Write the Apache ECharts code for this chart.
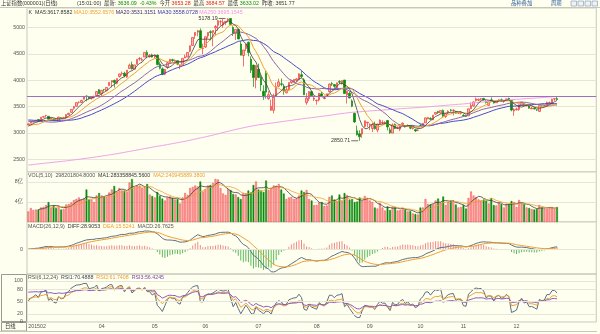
<!DOCTYPE html>
<html>
<head>
<meta charset="utf-8">
<script src="https://cdn.jsdelivr.net/npm/echarts@6/dist/echarts.min.js"></script>
<style>
html,body{margin:0;padding:0;background:#fffff0;}
#chart{width:600px;height:334px;}
</style>
</head>
<body>
<div id="chart"></div>
<script>
// 上证指数 daily bars, 2015-02-12 .. 2015-12-23
const tradingDays = [
  ['2015-02', [12,13,16,17,25,26,27]],
  ['2015-03', [2,3,4,5,6,9,10,11,12,13,16,17,18,19,20,23,24,25,26,27,30,31]],
  ['2015-04', [1,2,3,7,8,9,10,13,14,15,16,17,20,21,22,23,24,27,28,29,30]],
  ['2015-05', [4,5,6,7,8,11,12,13,14,15,18,19,20,21,22,25,26,27,28,29]],
  ['2015-06', [1,2,3,4,5,8,9,10,11,12,15,16,17,18,19,23,24,25,26,29,30]],
  ['2015-07', [1,2,3,6,7,8,9,10,13,14,15,16,17,20,21,22,23,24,27,28,29,30,31]],
  ['2015-08', [3,4,5,6,7,10,11,12,13,14,17,18,19,20,21,24,25,26,27,28,31]],
  ['2015-09', [1,2,7,8,9,10,11,14,15,16,17,18,21,22,23,24,25,28,29,30]],
  ['2015-10', [8,9,12,13,14,15,16,19,20,21,22,23,26,27,28,29,30]],
  ['2015-11', [2,3,4,5,6,9,10,11,12,13,16,17,18,19,20,23,24,25,26,27,30]],
  ['2015-12', [1,2,3,4,7,8,9,10,11,14,15,16,17,18,21,22,23]]
];

// closes before the first bar, used to warm up the moving averages and RSI
const priorCloses = [3234.7,3350.5,3351.4,3374.0,3293.5,3285.4,3229.3,3235.3,3222.4,3336.5,
  3376.5,3116.4,3173.1,3323.6,3343.3,3351.8,3383.2,3353.0,3305.7,3262.3,
  3210.4,3128.3,3204.9,3174.1,3136.5,3075.9,3095.1,3141.6,3157.7];

const openPrice = [
  3157,3186,3207,3230,3256,3222,3301,
  3332,3317,3264,3265,3248,3224,3289,3290,3285,3349,3391,3468,3508,3582,3580,3640,3702,3685,3658,3678,3710,3822,
  3748,3829,3804,3899,3967,3999,3944,4072,4125,4136,4065,4226,4302,4212,4304,4405,4385,4442,4531,4450,4483,
  4442,4479,4311,4218,4118,4256,4335,4392,4370,4374,4278,4285,4425,4442,4554,4661,4854,4917,4943,4603,
  4633,4844,4924,4912,4996,5045,5113,5049,5100,5143,5174,5004,4890,4968,4689,4471,4605,4723,4399,4289,4007,
  4214,4059,3793,4132,3654,3433,3432,3707,3888,3933,3891,3764,3827,3957,3965,4002,4019,4105,4009,3574,3653,3784,3641,
  3614,3628,3744,3656,3700,3786,3938,3919,3860,3976,3937,4007,3725,3753,3609,3373,3042,2985,2979,3125,3192,
  3157,3085,3149,3055,3175,3190,3189,3237,3061,2998,3163,3087,3072,3163,3137,3127,3134,3083,3063,3047,
  3144,3137,3192,3267,3276,3249,3358,3408,3380,3429,3313,3387,3438,3427,3409,3376,3376,
  3338,3324,3326,3462,3514,3617,3622,3643,3657,3603,3525,3629,3607,3574,3619,3631,3599,3615,3659,3616,3419,
  3442,3447,3526,3558,3518,3516,3458,3469,3440,3410,3511,3514,3530,3576,3576,3644,3653.28
];
const highPrice = [
  3182,3237,3229,3247,3257,3300,3324,
  3337,3318,3286,3266,3265,3307,3296,3307,3352,3385,3450,3503,3578,3600,3632,3688,3715,3700,3703,3711,3795,3836,
  3818,3835,3865,3962,3996,4016,4035,4128,4168,4164,4195,4317,4356,4294,4399,4444,4433,4529,4572,4499,4507,
  4486,4489,4354,4247,4216,4347,4402,4409,4397,4377,4294,4418,4491,4530,4658,4814,4911,4958,4986,4698,
  4829,4911,4951,4948,5052,5147,5147,5164,5122,5178.19,5176,5029,4968,4983,4744,4577,4691,4737,4456,4297,4287,
  4318,4113,3908,4184,3796,3631,3748,3959,4031,4035,3933,3873,3958,4007,4018,4043,4132,4184,4043,3758,3790,3795,3699,
  3632,3757,3783,3712,3746,3943,3970,3930,3955,4003,3994,4007,3803,3792,3640,3389,3142,3051,3084,3233,3207,
  3180,3187,3217,3174,3256,3243,3223,3238,3104,3182,3180,3124,3159,3201,3154,3164,3142,3107,3075,3073,
  3172,3184,3289,3296,3300,3339,3395,3422,3426,3447,3370,3430,3457,3448,3422,3398,3416,
  3358,3340,3460,3585,3596,3673,3654,3662,3667,3617,3608,3678,3617,3618,3640,3655,3620,3648,3669,3621,3470,
  3483,3538,3585,3568,3548,3516,3496,3488,3450,3521,3521,3534,3598,3597,3651,3653,3684.57
];
const lowPrice = [
  3152,3186,3199,3222,3215,3207,3295,
  3298,3260,3250,3221,3234,3223,3279,3280,3269,3346,3387,3443,3500,3559,3567,3640,3600,3641,3631,3655,3709,3739,
  3702,3783,3793,3899,3866,3862,3927,4052,4091,4062,4045,4216,4205,4212,4304,4373,4360,4442,4422,4432,4431,
  4421,4286,4210,4099,4097,4220,4325,4351,4356,4287,4212,4285,4424,4442,4536,4661,4789,4837,4614,4497,
  4615,4797,4759,4647,4856,4943,5038,5001,5050,5104,5048,4842,4767,4780,4476,4264,4557,4456,4139,3875,3847,
  4043,3795,3629,3653,3629,3421,3373,3707,3870,3888,3726,3752,3810,3934,3956,3974,4015,4043,3720,3537,3605,3698,3604,
  3538,3600,3692,3640,3694,3773,3893,3857,3840,3929,3921,3743,3558,3660,3491,3192,2953,2850.71,2906,3103,3109,
  3054,3019,3066,3012,3165,3165,3170,3049,2983,2998,3074,3076,3034,3162,3104,3123,3069,3068,3021,3039,
  3130,3129,3192,3263,3250,3248,3345,3365,3372,3306,3283,3358,3406,3332,3370,3361,3351,
  3313,3305,3326,3459,3500,3595,3606,3617,3615,3558,3517,3601,3560,3574,3591,3600,3572,3611,3629,3412,3327,
  3426,3421,3516,3514,3505,3465,3454,3448,3417,3402,3486,3500,3530,3563,3565,3610,3633.02
];
const closePrice = [
  3173.4,3203.8,3222.4,3246.9,3228.8,3298.4,3310.3,
  3336.3,3263.1,3279.5,3248.5,3241.2,3302.4,3286.1,3290.9,3349.3,3372.9,3449.3,3502.9,3577.3,3582.3,3617.3,3687.7,3691.4,3660.7,3682.1,3691.1,3786.6,3747.9,
  3810.3,3825.8,3863.9,3961.4,3994.8,3957.5,4034.3,4121.7,4135.6,4084.2,4194.8,4287.3,4217.1,4293.6,4398.5,4414.5,4393.7,4527.4,4476.6,4476.2,4441.7,
  4480.5,4298.7,4229.3,4112.2,4205.9,4333.6,4401.2,4375.8,4378.3,4308.7,4283.5,4417.6,4446.3,4529.4,4657.6,4813.8,4910.9,4941.7,4620.3,4611.7,
  4828.7,4910.5,4909.9,4947.1,5023.1,5131.9,5113.5,5106.0,5121.6,5166.4,5062.9,4887.4,4967.9,4785.4,4478.4,4576.5,4690.2,4527.8,4192.9,4053.0,4277.2,
  4053.7,3912.8,3686.9,3775.9,3727.1,3507.2,3709.3,3877.8,3970.4,3924.5,3805.7,3823.2,3957.4,3992.1,4017.7,4026.0,4123.9,4070.9,3725.6,3663.0,3789.2,3705.8,3663.7,
  3622.9,3756.5,3694.6,3661.5,3744.2,3928.4,3927.9,3886.3,3954.6,3965.3,3993.7,3748.2,3794.1,3664.3,3507.7,3209.9,2965.0,2927.3,3083.6,3232.4,3206.0,
  3166.6,3160.2,3080.4,3170.5,3243.1,3197.9,3200.2,3114.8,3005.2,3152.3,3086.1,3097.9,3156.5,3185.6,3115.9,3142.7,3092.3,3100.8,3038.1,3052.8,
  3143.4,3183.2,3287.7,3293.2,3262.4,3338.1,3391.4,3386.7,3425.3,3320.7,3368.7,3412.4,3429.6,3434.3,3375.2,3387.3,3382.6,
  3325.1,3316.7,3459.6,3522.8,3590.0,3646.9,3640.5,3650.3,3632.9,3580.8,3607.0,3604.8,3568.5,3617.1,3630.5,3610.3,3616.1,3647.9,3635.6,3436.3,3445.4,
  3456.3,3536.9,3584.8,3525.0,3536.9,3470.1,3472.4,3455.5,3434.6,3520.7,3510.4,3516.2,3580.0,3579.0,3642.5,3651.8,3636.09
];
// volume, in units of 1亿
const volumeYi = [
  2.1,2.8,2.4,2.5,2.5,2.9,3.0,
  3.4,4.0,2.9,3.3,2.8,3.2,2.5,2.6,3.5,3.6,3.9,4.4,4.6,4.9,4.5,4.7,6.5,4.5,4.5,4.0,5.3,5.8,
  5.3,5.1,5.0,5.9,6.5,7.2,6.0,6.8,6.3,6.3,6.0,7.9,8.6,6.9,7.2,7.3,6.8,7.0,7.6,5.5,5.2,
  4.9,6.0,5.2,4.7,4.3,4.9,5.1,4.8,4.5,4.6,3.7,4.9,5.8,5.4,6.8,7.0,7.3,7.1,8.1,6.1,
  6.6,7.3,7.4,7.8,8.6,8.5,6.8,5.7,5.4,6.6,6.4,5.6,5.5,5.0,4.6,5.8,5.7,6.3,5.9,7.4,8.1,
  6.5,6.3,6.0,8.3,6.4,6.6,7.3,7.2,7.6,6.5,5.7,4.6,4.9,5.0,4.6,4.7,5.3,6.3,6.0,6.4,4.6,4.3,3.4,
  3.4,3.9,4.0,3.2,3.3,5.0,5.3,4.5,4.2,5.5,4.2,5.8,5.4,4.5,4.6,4.0,4.1,4.9,4.3,5.2,4.8,
  4.3,4.0,2.9,2.7,3.8,2.9,2.3,3.1,2.4,3.1,3.0,2.3,2.4,2.8,2.5,2.1,2.2,1.7,1.6,1.5,
  2.9,2.9,4.6,3.6,3.5,3.5,4.3,4.7,3.9,5.1,3.4,4.0,4.3,4.3,3.5,2.9,3.0,
  3.4,2.7,4.8,6.1,5.3,5.0,4.5,4.3,4.5,4.3,3.7,4.8,3.4,3.3,3.9,3.6,2.9,3.6,3.5,4.2,4.0,
  3.0,4.4,3.8,3.6,2.9,2.8,2.6,2.5,2.6,3.4,2.9,2.7,2.7,2.9,3.0,2.55,2.982018048
];
// 250-day average of the close, as plotted by the terminal
const ma250 = [
  2390,2395,2401,2407,2412,2418,2424,
  2429,2434,2439,2444,2449,2454,2459,2464,2470,2476,2482,2488,2494,2500,2507,2514,2520,2527,2533,2540,2547,2554,
  2561,2568,2575,2583,2591,2599,2607,2615,2623,2632,2641,2650,2659,2667,2676,2685,2694,2703,2712,2721,2730,
  2739,2747,2755,2763,2771,2780,2789,2798,2807,2816,2825,2834,2843,2853,2863,2874,2885,2896,2906,2916,
  2927,2938,2949,2960,2972,2984,2996,3008,3020,3032,3044,3055,3067,3078,3088,3098,3109,3119,3128,3137,3146,
  3154,3161,3167,3174,3181,3187,3193,3200,3207,3214,3221,3227,3233,3240,3247,3254,3261,3268,3274,3280,3286,3292,3298,
  3304,3310,3316,3322,3328,3335,3342,3349,3356,3363,3370,3376,3382,3388,3393,3397,3400,3403,3407,3411,3415,
  3419,3422,3425,3428,3432,3436,3440,3443,3446,3450,3453,3456,3460,3464,3467,3471,3474,3477,3480,3483,
  3486,3489,3493,3497,3501,3505,3509,3513,3517,3521,3525,3529,3533,3537,3541,3545,3548,
  3552,3556,3561,3566,3571,3576,3581,3586,3591,3595,3599,3603,3607,3611,3615,3619,3623,3627,3631,3634,3637,
  3640,3643,3647,3650,3653,3656,3659,3662,3665,3668,3671,3675,3679,3683,3687,3691,3695
];
// month labels along the time axis
const monthTickDates = ['2015-02-12','2015-04-01','2015-05-04','2015-06-01','2015-07-01','2015-08-03','2015-09-01','2015-10-08','2015-11-02','2015-12-01'];
const monthTickLabels = ['201502','04','05','06','07','08','09','10','11','12'];
const rsiLevels = [0, 20, 50, 80, 100];
const emptySlots = 15;

// ---- derived series ----
const dates = [];
tradingDays.forEach(([ym, days]) => days.forEach(d => dates.push(ym + '-' + String(d).padStart(2, '0'))));
const categories = dates.concat(Array.from({length: emptySlots}, (_, i) => 'slot' + i));
const tickLabelOf = {};
monthTickDates.forEach((d, i) => { tickLabelOf[d] = monthTickLabels[i]; });

const allCloses = priorCloses.concat(closePrice);
function priceMA(n) {
  return closePrice.map((_, i) => {
    const j = i + priorCloses.length;
    if (j + 1 < n) return null;
    let s = 0;
    for (let k = j - n + 1; k <= j; k++) s += allCloses[k];
    return +(s / n).toFixed(3);
  });
}
function volumeMA(n) {
  return volumeYi.map((_, i) => {
    if (i + 1 < n) return null;
    let s = 0;
    for (let k = i - n + 1; k <= i; k++) s += volumeYi[k];
    return +(s / n).toFixed(4);
  });
}
// MACD(26,12,9) started at the first bar
const diffLine = [], deaLine = [], macdBars = [];
(function () {
  let e12 = closePrice[0], e26 = closePrice[0], dea = 0;
  closePrice.forEach((c, i) => {
    if (i > 0) { e12 = (2 * c + 11 * e12) / 13; e26 = (2 * c + 25 * e26) / 27; }
    const d = e12 - e26;
    dea = (2 * d + 8 * dea) / 10;
    diffLine.push(+d.toFixed(3)); deaLine.push(+dea.toFixed(3)); macdBars.push(+(2 * (d - dea)).toFixed(3));
  });
})();
// RSI with the SMA(x, N, 1) smoothing
function rsi(n) {
  let up = 0, all = 0;
  const out = [];
  for (let j = 1; j < allCloses.length; j++) {
    const d = allCloses[j] - allCloses[j - 1];
    if (j === 1) { up = Math.max(d, 0); all = Math.abs(d); }
    else { up = (Math.max(d, 0) + (n - 1) * up) / n; all = (Math.abs(d) + (n - 1) * all) / n; }
    if (j >= priorCloses.length) out.push(all ? +(up / all * 100).toFixed(3) : 50);
  }
  return out;
}

const macdHi = Math.max(...diffLine, ...deaLine, ...macdBars);
const macdLo = Math.min(...diffLine, ...deaLine, ...macdBars);
const macdSpan = macdHi - macdLo;
const macdAxisMax = macdHi + macdSpan * 9 / 41;
const macdAxisMin = macdLo - macdSpan * 2 / 41;

// ---- styling ----
const FONT = '"Liberation Sans","Noto Sans CJK SC",sans-serif';
const FS = 5.3;
const gridLine = '#e6e6d8';
const frame = '#c6c6ba';
const upFill = '#ffb4b4', upEdge = '#ee3636', downCol = '#0c8a0c';
const axisText = {fontSize: FS, color: '#555', fontFamily: FONT};

const L = 27, W = 569.25;
const panels = [[8, 164], [172, 50], [222, 52], [274, 48]];

const candleData = closePrice.map((c, i) => [openPrice[i], c, lowPrice[i], highPrice[i]]);
const volData = volumeYi.map((v, i) => {
  const up = closePrice[i] >= openPrice[i];
  return {value: v, itemStyle: {color: up ? upFill : downCol, borderColor: up ? upEdge : downCol, borderWidth: 0.5}};
});
const macdData = macdBars.map(v => ({value: v, itemStyle: {color: v >= 0 ? '#f08a8a' : '#5cb85c'}}));

function line(name, data, color, xi, width) {
  return {name, type: 'line', data, xAxisIndex: xi, yAxisIndex: xi, showSymbol: false, symbol: 'none',
    lineStyle: {color, width: width || 1}, silent: true, connectNulls: false, z: 3};
}

// one text row each: [x, y, rich text]
const ink = {
  t: '#333', g: '#555', up: '#e02020', dn: '#0a8a0a', or: '#f0a030',
  m20: '#3a2a70', m30: '#3434b0', m250: '#f090e8', r1: '#3a4a60', r3: '#7a4aa8', link: '#2a5a9a'
};
const rich = {};
Object.keys(ink).forEach(k => { rich[k] = {fill: ink[k], fontSize: FS, fontFamily: FONT}; });
const rows = [
  [1, 3.4, '{t|上证指数(000001)(日线)}'],
  [77, 3.4, '{t|(15:01:00)  最新: }{dn|3636.09  -0.43%}{t|  今开 }{up|3653.28}{t|  最高 }{up|3684.57}{t|  最低 }{dn|3633.02}{t|  昨收: 3651.77}'],
  [511, 3.4, '{link|品种叠加}'],
  [551, 3.4, '{link|周期}'],
  [28.5, 12.4, '{t|K  MA5:3617.8582 }{or|MA10:3552.6576 }{m20|MA20:3531.3151 }{m30|MA30:3558.0728 }{m250|MA250:3695.1545}'],
  [28, 176, '{g|VOL(5,10)  298201804.8000  }{t|MA1:283358845.5600  }{or|MA2:240945889.3800}'],
  [28, 226.8, '{g|MACD(26,12,9)  }{t|DIFF:28.9053  }{or|DEA:15.5241  }{g|MACD:26.7625}'],
  [28, 277.6, '{g|RSI(6,12,24)  }{r1|RSI1:70.4888  }{or|RSI2:61.7408  }{r3|RSI3:56.4245}'],
  [5, 326.6, '{t|日线}']
];
const graphics = rows.map(([x, y, t]) => ({
  type: 'text', x, y, silent: true, z: 10,
  style: {text: t, rich, font: FS + 'px ' + FONT, verticalAlign: 'middle', align: 'left'}
}));
// toolbar squares at the top right
[571, 578, 585, 592].forEach(x => graphics.push({
  type: 'rect', silent: true, shape: {x: x, y: 1, width: 5.5, height: 5}, style: {fill: '#eef2f6', stroke: '#7d96b4', lineWidth: 0.6}
}));
graphics.push(
  {type: 'line', silent: true, shape: {x1: 0, y1: 7.5, x2: 600, y2: 7.5}, style: {stroke: frame, lineWidth: 1}},
  {type: 'rect', silent: true, shape: {x: 1.5, y: 274.5, width: 25, height: 47}, style: {fill: 'none', stroke: '#9a9a90', lineWidth: 1}},
  {type: 'rect', silent: true, shape: {x: 1.5, y: 322.5, width: 25, height: 8.5}, style: {fill: 'none', stroke: '#9a9a90', lineWidth: 1}},
  {type: 'line', silent: true, shape: {x1: 0, y1: 331.5, x2: 597, y2: 331.5}, style: {stroke: frame, lineWidth: 1}}
);

const option = {
  animation: false,
  backgroundColor: '#fffff0',
  textStyle: {fontFamily: FONT},
  grid: panels.map(([top, height]) => ({left: L, width: W, top, height, show: true, borderColor: frame, borderWidth: 1, backgroundColor: 'transparent'})),
  xAxis: panels.map((_, i) => ({
    type: 'category', gridIndex: i, data: categories, boundaryGap: true,
    axisLine: {show: false}, axisTick: {show: false}, splitLine: {show: false},
    axisLabel: i === 3 ? {
      show: true, ...axisText, margin: 2, alignMinLabel: 'left',
      interval: (idx, val) => tickLabelOf[val] !== undefined,
      formatter: val => tickLabelOf[val] || ''
    } : {show: false}
  })),
  yAxis: [
    {type: 'value', gridIndex: 0, min: 2259, max: 5374, minInterval: 500, maxInterval: 500,
      axisLine: {show: false}, axisTick: {show: false},
      axisLabel: {...axisText, margin: 2, showMinLabel: false, showMaxLabel: false, formatter: v => String(v)},
      splitLine: {lineStyle: {color: gridLine, width: 1}}},
    {type: 'value', gridIndex: 1, min: 0, max: 10, interval: 4,
      axisLine: {show: false}, axisTick: {show: false},
      axisLabel: {...axisText, margin: 4, showMinLabel: false, showMaxLabel: false,
        formatter: v => (v === 4 || v === 8) ? v + '亿' : ''},
      splitLine: {lineStyle: {color: gridLine, width: 1}}},
    {type: 'value', gridIndex: 2, min: macdAxisMin, max: macdAxisMax, interval: -macdAxisMin,
      axisLine: {show: false}, axisTick: {show: false},
      axisLabel: {...axisText, margin: 4, showMinLabel: false, showMaxLabel: false,
        formatter: v => Math.abs(v) < 1e-6 ? '0' : ''},
      splitLine: {show: false}},
    {type: 'value', gridIndex: 3, min: 0, max: 117,
      axisLine: {show: false}, axisTick: {show: false, customValues: rsiLevels},
      axisLabel: {...axisText, margin: 4, customValues: rsiLevels, formatter: v => String(v)},
      splitLine: {show: false}}
  ],
  graphic: graphics,
  series: [
    {
      name: 'K', type: 'candlestick', xAxisIndex: 0, yAxisIndex: 0, data: candleData,
      barWidth: 2, silent: true, z: 2,
      itemStyle: {color: upFill, borderColor: upEdge, color0: downCol, borderColor0: downCol, borderWidth: 0.7},
      markPoint: {
        silent: true, symbol: 'rect', symbolSize: [7, 0.7],
        itemStyle: {color: '#333'},
        label: {show: true, position: 'left', distance: 1, fontSize: FS, color: '#333', fontFamily: FONT,
          formatter: p => Number(p.value).toFixed(2)},
        data: [
          {type: 'max', valueDim: 'highest', symbolOffset: [-6, 0]},
          {type: 'min', valueDim: 'lowest', symbolOffset: [-5, 0]}
        ]
      },
      markLine: {
        silent: true, symbol: 'none', label: {show: false},
        lineStyle: {color: '#a070c0', width: 1, type: 'solid'},
        data: [{yAxis: ma250[ma250.length - 1]}]
      }
    },
    line('MA250', ma250, '#f0a0ec', 0),
    line('MA30', priceMA(30), '#4848c8', 0),
    line('MA20', priceMA(20), '#8a64a8', 0),
    line('MA10', priceMA(10), '#f0a030', 0),
    line('MA5', priceMA(5), '#404040', 0, 0.8),
    {name: 'VOL', type: 'bar', xAxisIndex: 1, yAxisIndex: 1, data: volData, barWidth: 1.8, silent: true},
    line('VMA5', volumeMA(5), '#404040', 1, 0.8),
    line('VMA10', volumeMA(10), '#f0a030', 1, 0.8),
    {name: 'MACD', type: 'bar', xAxisIndex: 2, yAxisIndex: 2, data: macdData, barWidth: 1, silent: true,
      markLine: {silent: true, symbol: 'none', label: {show: false}, lineStyle: {color: gridLine, width: 1, type: 'solid'}, data: [{yAxis: 0}]}},
    line('DIFF', diffLine, '#607080', 2),
    line('DEA', deaLine, '#f0a030', 2),
    {...line('RSI1', rsi(6), '#5a6e84', 3),
      markLine: {silent: true, symbol: 'none', label: {show: false}, lineStyle: {color: gridLine, width: 1, type: 'solid'},
        data: rsiLevels.map(v => ({yAxis: v}))}},
    line('RSI2', rsi(12), '#f0a030', 3),
    line('RSI3', rsi(24), '#8a5cc0', 3)
  ]
};

const chart = echarts.init(document.getElementById('chart'), null, {renderer: 'canvas'});
chart.setOption(option);
</script>
</body>
</html>
